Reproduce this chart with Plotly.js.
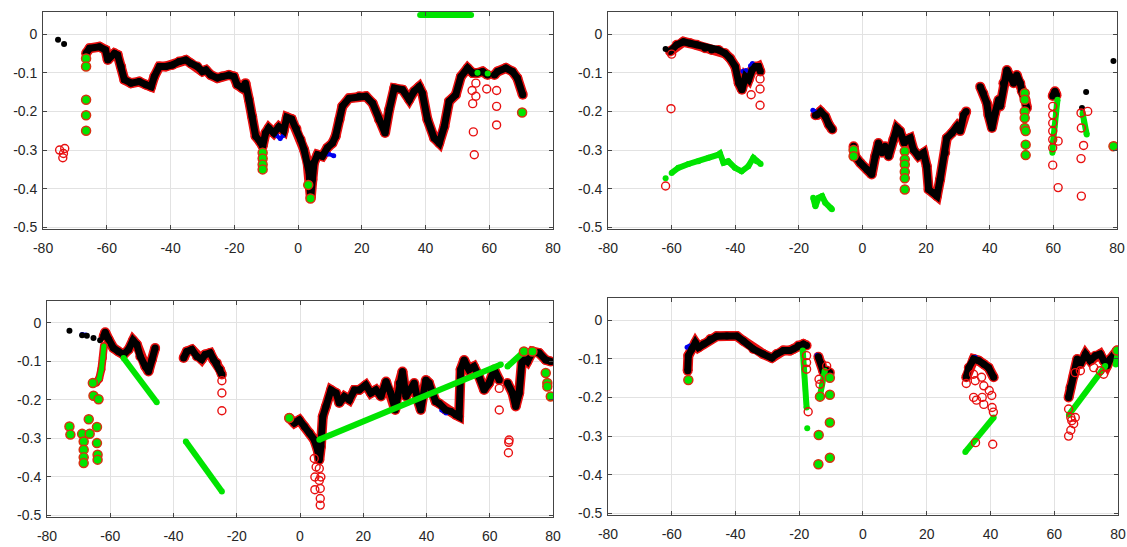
<!DOCTYPE html>
<html><head><meta charset="utf-8">
<script src="https://cdn.plot.ly/plotly-3.0.1.min.js"></script>
<style>html,body{margin:0;padding:0;background:#fff}#chart{width:1127px;height:547px}</style>
</head><body><div id="chart"></div>
<script>
// ---------- tick labels ----------
const xTickVals = [-80,-60,-40,-20,0,20,40,60,80];
const xTickText = ['-80','-60','-40','-20','0','20','40','60','80'];
const yTickVals = [-0.5,-0.4,-0.3,-0.2,-0.1,0];
const yTickText = ['-0.5','-0.4','-0.3','-0.2','-0.1','0'];

// ---------- panel 1 (top left) ----------
const tlMainX = [-66.5,-65.4,-62.3,-60.4,-59.7,-57.6,-56.6,-55.5,-54.5,-52.4,-49.8,-47.7,-46.1,-45.1,-43.5,-41.5,-39.4,-37.3,-35.2,-33.6,-31.6,-30,-28.9,-27.4,-25.3,-23.8,-21.7,-20.1,-19.1,-17.5,-16.5,-15.4,-14.4,-13.3,-11.8,-11.1,-10.2,-9.2,-7.6,-6,-4.5,-3.5,-2,-0.5,0.8,1.9,3,3.5,3.7,4,4.5,5,6.1,7.6,9.2,10.8,11.8,13,13.9,16,19.2,21.3,23.4,25.4,27.3,28.6,30.2,32.8,34.9,36.4,38,39,40.6,42.7,44.3,45.9,47.4,49.5,51.1,53.2,54.8,56.3,57.9,59.5,null,61.6,62.6,65.2,67.3,68.8,70.5];
const tlMainY = [-0.05,-0.037,-0.033,-0.041,-0.067,-0.05,-0.054,-0.084,-0.118,-0.127,-0.123,-0.131,-0.136,-0.11,-0.084,-0.084,-0.08,-0.071,-0.067,-0.076,-0.084,-0.097,-0.093,-0.106,-0.114,-0.11,-0.106,-0.11,-0.131,-0.14,-0.127,-0.17,-0.213,-0.264,-0.28,-0.29,-0.256,-0.243,-0.256,-0.24,-0.25,-0.215,-0.22,-0.245,-0.273,-0.299,-0.333,-0.359,-0.393,-0.423,-0.376,-0.333,-0.312,-0.316,-0.294,-0.282,-0.264,-0.221,-0.187,-0.166,-0.161,-0.161,-0.179,-0.221,-0.256,-0.196,-0.14,-0.144,-0.17,-0.148,-0.136,-0.153,-0.221,-0.269,-0.282,-0.239,-0.174,-0.157,-0.11,-0.088,-0.101,-0.101,-0.097,-0.106,null,-0.106,-0.097,-0.088,-0.097,-0.114,-0.157];
const tlBlueX = [-6.8,-5.6,-4.6,null,8.2,9.6,11.2,null,44.8,45.6];
const tlBlueY = [-0.262,-0.27,-0.262,null,-0.312,-0.31,-0.315,null,-0.258,-0.24];
const tlDotX = [-75.3,-73.4];
const tlDotY = [-0.015,-0.026];
const tlGreenX = [38.3,54.3];
const tlGreenY = [0.049,0.049];
const tlGreenPtX = [56.3,59.5];
const tlGreenPtY = [-0.1,-0.102];
const tlFillX = [-66.5,-66.5,-66.5,-66.5,-66.5,-11.1,-11.1,-11.1,-11.1,3.2,3.9,70.3];
const tlFillY = [-0.063,-0.084,-0.17,-0.21,-0.25,-0.307,-0.322,-0.337,-0.35,-0.39,-0.425,-0.203];
const tlOpenX = [-74.8,-73.2,-73.6,-73.8,54.6,55.8,54.8,55,55.3,55.8,59.2,62.3,62.3,62.3];
const tlOpenY = [-0.3,-0.296,-0.309,-0.32,-0.146,-0.161,-0.18,-0.253,-0.312,-0.127,-0.142,-0.146,-0.187,-0.235];

// ---------- panel 2 (top right) ----------
const trMainX = [-60.5,-58.4,-56.3,-54.2,-52.1,-49.5,-47.4,-45.3,-43.2,-41.6,-40,-38.9,-37.9,-36.8,-35.8,-34.7,-33.7,-32.7,-32.1,null,-14.8,-14.3,-13.2,-11.7,-10.6,-9.5,null,-2.8,-2.3,-0.7,1.4,2.9,4,5,6.1,7.1,8.2,9.7,10.8,11.8,13.1,14,15,16,17.6,19.2,20.2,20.8,22.3,23.4,24.4,26,26.5,28.1,29.7,30.7,31.8,32.6,null,37,38,39.1,39.6,40.7,41.7,42.8,43.3,44.3,45.4,46.4,47.5,48.5,49.6,50.1,51.2,51.7,null,59.8,60.5,61];
const trMainY = [-0.045,-0.028,-0.02,-0.024,-0.028,-0.037,-0.041,-0.041,-0.05,-0.063,-0.084,-0.127,-0.144,-0.11,-0.118,-0.093,-0.084,-0.084,-0.097,null,-0.21,-0.209,-0.2,-0.213,-0.234,-0.247,null,-0.29,-0.316,-0.333,-0.35,-0.363,-0.316,-0.282,-0.307,-0.29,-0.316,-0.273,-0.243,-0.251,-0.282,-0.273,-0.269,-0.299,-0.316,-0.307,-0.342,-0.402,-0.41,-0.419,-0.376,-0.307,-0.269,-0.256,-0.239,-0.251,-0.209,-0.2,null,-0.136,-0.153,-0.179,-0.209,-0.243,-0.204,-0.17,-0.187,-0.127,-0.093,-0.11,-0.127,-0.106,-0.127,-0.148,-0.17,-0.191,null,-0.16,-0.148,-0.158];
const trBlueX = [-37.6,-36.6,null,-35.2,-34.6,null,-15.6,-15];
const trBlueY = [-0.096,-0.094,null,-0.082,-0.076,null,-0.197,-0.2];
const trDotX = [-61.9,69,70.3,78.9];
const trDotY = [-0.039,-0.191,-0.15,-0.07];
const trGreenX = [-61.9,null,-60,-57.9,-54.7,-51.6,-48.4,-45.3,-44.8,-43.7,-42.2,-40.1,-38,-35.9,-34.3,-33.3,-32,null,-15.5,-14.8,-13.8,-12.7,-11.7,-10.1,-9.6,null,61.3,60.8,60.3,59.9,59.7,null,69.2,69.6,70.5];
const trGreenY = [-0.373,null,-0.359,-0.346,-0.336,-0.329,-0.32,-0.312,-0.309,-0.333,-0.329,-0.346,-0.355,-0.342,-0.32,-0.329,-0.336,null,-0.423,-0.445,-0.423,-0.419,-0.436,-0.449,-0.453,null,-0.17,-0.2,-0.24,-0.28,-0.307,null,-0.205,-0.225,-0.26];
const trFillX = [13.3,13.3,13.3,13.3,13.3,13.3,-2.8,-2.8,51,51,51,51,51,51.3,51.3,51.3,78.9];
const trFillY = [-0.303,-0.324,-0.337,-0.356,-0.373,-0.402,-0.3,-0.316,-0.153,-0.17,-0.2,-0.217,-0.243,-0.251,-0.286,-0.313,-0.29];
const trOpenX = [-60.2,-61.9,-35,-32.2,-32.2,-32.2,-60,59.8,59.8,59.8,59.8,59.8,59.8,59.8,61.5,61.5,68.7,70.8,68.8,69.5,68.7,68.8];
const trOpenY = [-0.193,-0.393,-0.157,-0.116,-0.142,-0.184,-0.052,-0.187,-0.209,-0.23,-0.251,-0.273,-0.294,-0.339,-0.397,-0.277,-0.204,-0.2,-0.243,-0.288,-0.322,-0.419];

// ---------- panel 3 (bottom left) ----------
const blMainX = [-62.1,-61.6,-60.5,-59,-57.4,-55.8,-54.2,-52.8,-51.6,-50.5,-48.9,-47.9,-46.8,-45.8,null,-36.8,-35.8,-34.2,-32.6,-31.1,-30,-28.4,-27.4,-26.3,-25.3,-24.7,null,-3.4,-1.8,-0.2,1.4,3,4.5,5.6,6.1,6.6,7.2,8.2,9.8,11.4,12.4,14,15.6,17.2,18.7,20.8,22.4,24,25.6,27.2,28.7,30.1,31.4,32.4,33.5,35,36.1,37.2,38.2,39.8,40.8,41.9,42.9,44,46.1,47.7,49.3,50.3,50.8,51.9,53.4,55,56.6,58.2,59.8,61.4,63,null,65.6,67.2,68.2,69.3,70.3,71.9,73.5,75.6,77.7,79.3];
const blMainY = [-0.035,-0.024,-0.043,-0.065,-0.074,-0.082,-0.069,-0.045,-0.056,-0.087,-0.113,-0.126,-0.095,-0.065,null,-0.091,-0.074,-0.069,-0.087,-0.095,-0.082,-0.078,-0.095,-0.104,-0.121,-0.134,null,-0.247,-0.26,-0.252,-0.269,-0.286,-0.303,-0.33,-0.356,-0.321,-0.243,-0.217,-0.174,-0.182,-0.208,-0.191,-0.2,-0.174,-0.174,-0.161,-0.182,-0.174,-0.191,-0.152,-0.182,-0.226,-0.156,-0.126,-0.191,-0.174,-0.156,-0.2,-0.226,-0.148,-0.156,-0.182,-0.204,-0.209,-0.226,-0.23,-0.239,-0.243,-0.121,-0.096,-0.121,-0.113,-0.139,-0.174,-0.156,-0.121,-0.148,null,-0.156,-0.182,-0.217,-0.182,-0.087,-0.1,-0.074,-0.078,-0.096,-0.1];
const blBlueX = [-68.9,-67.8,null,44.8,46.2];
const blBlueY = [-0.03,-0.031,null,-0.226,-0.234];
const blDotX = [-72.9,-68.9,-67.4,-65.3,-63.2];
const blDotY = [-0.02,-0.032,-0.033,-0.039,-0.045];
const blStemX = [-62,-62.3,-62.8,-63.5,-64.5];
const blStemY = [-0.06,-0.09,-0.12,-0.145,-0.155];
const blGreenX = [-55.8,-45.3,null,-36.1,-24.7,null,6.1,63.5,null,65.6,70.8];
const blGreenY = [-0.091,-0.206,null,-0.308,-0.438,null,-0.303,-0.108,null,-0.113,-0.074];
const blFillX = [-65.5,-65.3,-63.7,-66.8,-72.9,-72.6,-68.9,-68.4,-68.4,-68.4,-68.4,-66.5,-64.2,-64.2,-64,-64,-3.4,70.8,73.5,77.7,78.2,78.2,79.3];
const blFillY = [-0.156,-0.189,-0.198,-0.25,-0.269,-0.29,-0.288,-0.308,-0.329,-0.349,-0.364,-0.288,-0.27,-0.312,-0.342,-0.355,-0.247,-0.074,-0.074,-0.13,-0.156,-0.165,-0.191];
const blOpenX = [-24.7,-24.7,-24.7,4.5,5.1,4.7,4.7,6.1,6.1,6.6,6.4,6.4,6.4,63,63,66.1,66,65.9];
const blOpenY = [-0.15,-0.182,-0.228,-0.352,-0.374,-0.4,-0.433,-0.378,-0.409,-0.4,-0.43,-0.456,-0.473,-0.17,-0.226,-0.304,-0.31,-0.337];

// ---------- panel 4 (bottom right) ----------
const brMainX = [-55,-54.8,-53.7,-52.6,-51.6,-50,-47.9,-45.9,-42.7,-39.6,-37.5,-34.4,-31.3,-28.6,-27.1,-25,-22.9,-21.8,-20.3,-18.7,-17.7,null,-14,-13,-12.5,-11.4,-10.4,null,32.4,33.2,34.7,36.3,37.9,39.4,41,null,64.5,65.1,66.1,67.2,68.2,69.8,71.3,72.9,74.4,75.5,76.6,77.6,78.7,79.7];
const brMainY = [-0.131,-0.092,-0.075,-0.058,-0.071,-0.062,-0.049,-0.042,-0.041,-0.041,-0.054,-0.075,-0.088,-0.098,-0.088,-0.079,-0.079,-0.075,-0.066,-0.062,-0.066,null,-0.095,-0.114,-0.131,-0.131,-0.136,null,-0.148,-0.123,-0.101,-0.105,-0.114,-0.123,-0.148,null,-0.2,-0.174,-0.144,-0.101,-0.114,-0.088,-0.105,-0.092,-0.088,-0.105,-0.118,-0.101,-0.092,-0.079];
const brBlueX = [-55.2,-54.4,null,-14.4,-13.8,null,34.6,35.2];
const brBlueY = [-0.07,-0.067,null,-0.091,-0.095,null,-0.097,-0.096];
const brGreenX = [-18.9,-17.7,null,-13.5,-12,null,32.1,41,null,64.6,76,null,79.3,80];
const brGreenY = [-0.079,-0.226,null,-0.196,-0.131,null,-0.341,-0.252,null,-0.245,-0.119,null,-0.115,-0.08];
const brGreenPtX = [-17.5];
const brGreenPtY = [-0.28];
const brFillX = [-54.8,-13.5,-10.4,-10.4,-10.4,-13.9,-14,-10.4,79.7];
const brFillY = [-0.155,-0.198,-0.193,-0.265,-0.356,-0.297,-0.373,-0.149,-0.079];
const brOpenX = [-17.7,-17.7,-17.7,-17.2,-13.5,-13.8,-11.4,32.4,34.7,35.2,37.2,37.9,34.7,35.6,37.4,37.9,39.6,40.4,40.5,40.9,40.7,35.3,64.5,65.2,65.5,66.1,65.2,64.5,66.6,66.6,68.2,72.4,74.4,75.5];
const brOpenY = [-0.092,-0.11,-0.127,-0.237,-0.166,-0.153,-0.119,-0.164,-0.14,-0.157,-0.148,-0.17,-0.2,-0.207,-0.2,-0.218,-0.182,-0.195,-0.226,-0.238,-0.321,-0.317,-0.23,-0.252,-0.26,-0.268,-0.285,-0.3,-0.252,-0.136,-0.131,-0.123,-0.131,-0.14];

// ---------- styling ----------
const RED = '#e81010', GREEN = '#00e400', BLUE = '#0000ee', BLACK = '#000000';

function panel(xa, ya, d) {
  const t = [];
  const base = {xaxis: xa, yaxis: ya, hoverinfo: 'skip', showlegend: false};
  t.push(Object.assign({}, base, {x: d.mainX, y: d.mainY, mode: 'lines+markers',
    line: {color: RED, width: 10}, marker: {color: RED, size: 10}}));
  if (d.blueX) t.push(Object.assign({}, base, {x: d.blueX, y: d.blueY, mode: 'lines+markers',
    line: {color: BLUE, width: 4}, marker: {color: BLUE, size: 5}}));
  t.push(Object.assign({}, base, {x: d.mainX, y: d.mainY, mode: 'lines+markers',
    line: {color: BLACK, width: 7}, marker: {color: BLACK, size: 7}}));
  if (d.dotX) t.push(Object.assign({}, base, {x: d.dotX, y: d.dotY, mode: 'markers',
    marker: {color: BLACK, size: 6}}));
  if (d.stemX) {
    t.push(Object.assign({}, base, {x: d.stemX, y: d.stemY, mode: 'lines+markers',
      line: {color: RED, width: 8}, marker: {color: RED, size: 8}}));
    t.push(Object.assign({}, base, {x: d.stemX, y: d.stemY, mode: 'lines+markers',
      line: {color: GREEN, width: 5}, marker: {color: GREEN, size: 5}}));
  }
  if (d.greenX) t.push(Object.assign({}, base, {x: d.greenX, y: d.greenY, mode: 'lines+markers',
    line: {color: GREEN, width: 6}, marker: {color: GREEN, size: 6}}));
  if (d.greenPtX) t.push(Object.assign({}, base, {x: d.greenPtX, y: d.greenPtY, mode: 'markers',
    marker: {color: GREEN, size: 6}}));
  t.push(Object.assign({}, base, {x: d.fillX, y: d.fillY, mode: 'markers',
    marker: {symbol: 'circle', color: GREEN, size: 9, line: {color: '#d83010', width: 1.5}}}));
  t.push(Object.assign({}, base, {x: d.openX, y: d.openY, mode: 'markers',
    marker: {symbol: 'circle-open', color: RED, size: 8, line: {color: RED, width: 1.4}}}));
  return t;
}

const data = [].concat(
  panel('x', 'y', {mainX: tlMainX, mainY: tlMainY, blueX: tlBlueX, blueY: tlBlueY, dotX: tlDotX, dotY: tlDotY,
    greenX: tlGreenX, greenY: tlGreenY, greenPtX: tlGreenPtX, greenPtY: tlGreenPtY,
    fillX: tlFillX, fillY: tlFillY, openX: tlOpenX, openY: tlOpenY}),
  panel('x2', 'y2', {mainX: trMainX, mainY: trMainY, blueX: trBlueX, blueY: trBlueY, dotX: trDotX, dotY: trDotY,
    greenX: trGreenX, greenY: trGreenY, fillX: trFillX, fillY: trFillY, openX: trOpenX, openY: trOpenY}),
  panel('x3', 'y3', {mainX: blMainX, mainY: blMainY, blueX: blBlueX, blueY: blBlueY, dotX: blDotX, dotY: blDotY,
    stemX: blStemX, stemY: blStemY, greenX: blGreenX, greenY: blGreenY,
    fillX: blFillX, fillY: blFillY, openX: blOpenX, openY: blOpenY}),
  panel('x4', 'y4', {mainX: brMainX, mainY: brMainY, blueX: brBlueX, blueY: brBlueY,
    greenX: brGreenX, greenY: brGreenY, greenPtX: brGreenPtX, greenPtY: brGreenPtY,
    fillX: brFillX, fillY: brFillY, openX: brOpenX, openY: brOpenY})
);

const tickFont = {family: 'Liberation Sans, Arial, sans-serif', size: 14, color: '#262626'};
function xax(dom, anchor) {
  return {domain: dom, anchor: anchor, range: [-80, 80], tickmode: 'array', tickvals: xTickVals, ticktext: xTickText,
    showgrid: true, gridcolor: '#e2e2e2', gridwidth: 1, zeroline: false, showline: true, linecolor: '#444',
    linewidth: 1, mirror: 'ticks', ticks: 'inside', ticklen: 4, tickcolor: '#444', tickfont: tickFont,
    ticklabelstandoff: 6, fixedrange: true};
}
function yax(dom, anchor) {
  return {domain: dom, anchor: anchor, range: [-0.504, 0.057], tickmode: 'array', tickvals: yTickVals, ticktext: yTickText,
    showgrid: true, gridcolor: '#e2e2e2', gridwidth: 1, zeroline: false, showline: true, linecolor: '#444',
    linewidth: 1, mirror: 'ticks', ticks: 'inside', ticklen: 4, tickcolor: '#444', tickfont: tickFont,
    ticklabelstandoff: 2, fixedrange: true};
}

const layout = {
  width: 1127, height: 547, margin: {l: 0, r: 0, t: 0, b: 0},
  paper_bgcolor: '#ffffff', plot_bgcolor: '#ffffff', showlegend: false,
  xaxis: xax([0.0382, 0.4907], 'y'), yaxis: yax([0.5814, 0.9781], 'x'),
  xaxis2: xax([0.5395, 0.9911], 'y2'), yaxis2: yax([0.5814, 0.9781], 'x2'),
  xaxis3: xax([0.0417, 0.4907], 'y3'), yaxis3: yax([0.0548, 0.4497], 'x3'),
  xaxis4: xax([0.5395, 0.9920], 'y4'), yaxis4: yax([0.0585, 0.4552], 'x4')
};

Plotly.newPlot('chart', data, layout, {displayModeBar: false, staticPlot: true});
</script>
</body></html>
